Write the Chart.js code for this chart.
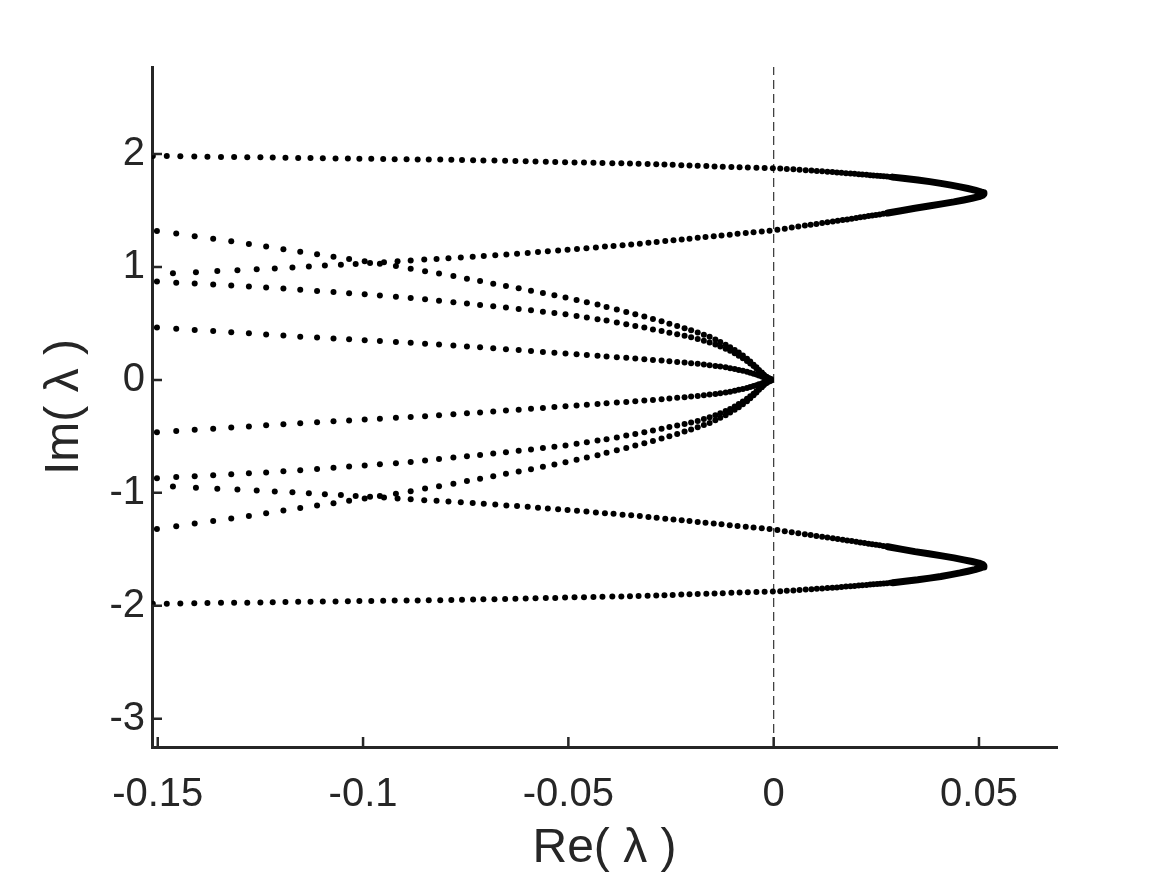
<!DOCTYPE html>
<html>
<head>
<meta charset="utf-8">
<script src="https://cdn.jsdelivr.net/npm/chart.js@4.4.1/dist/chart.umd.min.js"></script>
<style>
  html, body { margin: 0; padding: 0; background: #fff; }
  canvas { display: block; }
</style>
</head>
<body>
<canvas id="c" width="1169" height="878"></canvas>
<script>
// axis ticks
const xTicks = [-0.15, -0.1, -0.05, 0, 0.05];
const xTickLabels = ['-0.15', '-0.1', '-0.05', '0', '0.05'];
const yTicks = [-3, -2, -1, 0, 1, 2];
const yTickLabels = ['-3', '-2', '-1', '0', '1', '2'];

// outer loop, far side (upper half)
const loopOuterX = [-0.1512,-0.1478,-0.1445,-0.1411,-0.1379,-0.1346,-0.1314,-0.1282,-0.1250,-0.1220,-0.1189,-0.1158,-0.1128,-0.1098,-0.1067,-0.1037,-0.1009,-0.0980,-0.0951,-0.0923,-0.0894,-0.0867,-0.0840,-0.0812,-0.0785,
  -0.0759,-0.0732,-0.0707,-0.0680,-0.0654,-0.0629,-0.0604,-0.0580,-0.0555,-0.0532,-0.0508,-0.0485,-0.0462,-0.0439,-0.0417,-0.0393,-0.0371,-0.0350,-0.0329,
  -0.0307,-0.0286,-0.0266,-0.0246,-0.0225,-0.0205,-0.0185,-0.0164,-0.0144,-0.0124,-0.0103,-0.0083,-0.0063,-0.0042,-0.0022,-0.0002,
  0.0016,0.0032,0.0048,0.0063,0.0078,0.0092,0.0105,0.0118,0.0131,0.0143,0.0154,0.0165,0.0176,0.0187,0.0197,0.0207,0.0216,0.0226,0.0235,0.0243,0.0252,0.0260,0.0268,0.0276,0.0284,0.0291];
const loopOuterY = [1.982,1.981,1.979,1.978,1.976,1.974,1.973,1.972,1.970,1.969,1.967,1.965,1.965,1.963,1.961,1.960,1.958,1.957,1.956,1.954,1.953,1.952,1.951,1.950,1.949,
  1.947,1.945,1.943,1.942,1.939,1.937,1.935,1.934,1.932,1.930,1.927,1.925,1.924,1.922,1.920,1.918,1.917,1.916,1.914,
  1.912,1.909,1.906,1.904,1.901,1.898,1.896,1.893,1.890,1.888,1.885,1.882,1.880,1.877,1.875,1.874,
  1.871,1.867,1.864,1.860,1.856,1.853,1.850,1.846,1.842,1.840,1.837,1.834,1.830,1.827,1.824,1.820,1.818,1.815,1.812,1.810,1.807,1.804,1.802,1.800,1.797,1.795];
const loopOuterYNeg = [-1.982,-1.981,-1.979,-1.978,-1.976,-1.974,-1.973,-1.972,-1.970,-1.969,-1.967,-1.965,-1.965,-1.963,-1.961,-1.960,-1.958,-1.957,-1.956,-1.954,-1.953,-1.952,-1.951,-1.950,-1.949,
  -1.947,-1.945,-1.943,-1.942,-1.939,-1.937,-1.935,-1.934,-1.932,-1.930,-1.927,-1.925,-1.924,-1.922,-1.920,-1.918,-1.917,-1.916,-1.914,
  -1.912,-1.909,-1.906,-1.904,-1.901,-1.898,-1.896,-1.893,-1.890,-1.888,-1.885,-1.882,-1.880,-1.877,-1.875,-1.874,
  -1.871,-1.867,-1.864,-1.860,-1.856,-1.853,-1.850,-1.846,-1.842,-1.840,-1.837,-1.834,-1.830,-1.827,-1.824,-1.820,-1.818,-1.815,-1.812,-1.810,-1.807,-1.804,-1.802,-1.800,-1.797,-1.795];

// outer loop, near side
const loopInnerX = [-0.1463,-0.1407,-0.1355,-0.1306,-0.1259,-0.1215,-0.1172,-0.1132,-0.1093,-0.1054,-0.1018,-0.0983,-0.0949,-0.0916,-0.0884,-0.0851,-0.0821,-0.0792,-0.0762,-0.0733,
  -0.0706,-0.0678,-0.0651,-0.0625,-0.0599,-0.0574,-0.0550,-0.0525,-0.0502,-0.0479,-0.0456,-0.0433,-0.0411,-0.0390,-0.0368,-0.0347,-0.0326,-0.0305,-0.0285,-0.0264,
  -0.0244,-0.0224,-0.0205,-0.0185,-0.0166,-0.0146,-0.0127,-0.0107,-0.0088,-0.0068,-0.0049,-0.0029,-0.0010,0.0009,0.0027,0.0044,0.0060,0.0076,0.0090,0.0104,
  0.0118,0.0131,0.0144,0.0156,0.0168,0.0179,0.0190,0.0201,0.0211,0.0221,0.0231,0.0240,0.0249,0.0258,0.0267,0.0275];
const loopInnerY = [0.944,0.954,0.963,0.971,0.979,0.987,0.994,1.003,1.012,1.019,1.027,1.035,1.042,1.050,1.057,1.065,1.071,1.077,1.084,1.090,
  1.096,1.104,1.111,1.117,1.124,1.132,1.138,1.145,1.152,1.159,1.165,1.173,1.180,1.186,1.193,1.199,1.206,1.214,1.221,1.229,
  1.236,1.243,1.250,1.258,1.265,1.272,1.279,1.286,1.293,1.300,1.307,1.314,1.321,1.330,1.339,1.348,1.357,1.366,1.373,1.381,
  1.388,1.396,1.402,1.409,1.415,1.421,1.427,1.433,1.439,1.444,1.450,1.455,1.460,1.465,1.470,1.475];
const loopInnerYNeg = [-0.944,-0.954,-0.963,-0.971,-0.979,-0.987,-0.994,-1.003,-1.012,-1.019,-1.027,-1.035,-1.042,-1.050,-1.057,-1.065,-1.071,-1.077,-1.084,-1.090,
  -1.096,-1.104,-1.111,-1.117,-1.124,-1.132,-1.138,-1.145,-1.152,-1.159,-1.165,-1.173,-1.180,-1.186,-1.193,-1.199,-1.206,-1.214,-1.221,-1.229,
  -1.236,-1.243,-1.250,-1.258,-1.265,-1.272,-1.279,-1.286,-1.293,-1.300,-1.307,-1.314,-1.321,-1.330,-1.339,-1.348,-1.357,-1.366,-1.373,-1.381,
  -1.388,-1.396,-1.402,-1.409,-1.415,-1.421,-1.427,-1.433,-1.439,-1.444,-1.450,-1.455,-1.460,-1.465,-1.470,-1.475];

// dense tip of the loop (points too close to separate)
const tipX = [0.0290,0.0320,0.0351,0.0380,0.0407,0.0432,0.0454,0.0473,0.0490,0.0502,0.0510,0.0512,0.0509,0.0500,0.0483,0.0463,0.0439,0.0410,0.0378,0.0344,0.0310,0.0278];
const tipY = [1.795,1.783,1.770,1.755,1.740,1.724,1.709,1.694,1.680,1.667,1.657,1.646,1.635,1.622,1.608,1.593,1.576,1.558,1.539,1.520,1.498,1.477];
const tipYNeg = [-1.795,-1.783,-1.770,-1.755,-1.740,-1.724,-1.709,-1.694,-1.680,-1.667,-1.657,-1.646,-1.635,-1.622,-1.608,-1.593,-1.576,-1.558,-1.539,-1.520,-1.498,-1.477];

// three branches running into the origin, same Re values
const branchX = [-0.1502,-0.1455,-0.1410,-0.1365,-0.1321,-0.1278,-0.1236,-0.1194,-0.1153,-0.1112,-0.1072,-0.1034,-0.0996,-0.0959,-0.0920,-0.0884,-0.0849,-0.0815,-0.0780,-0.0747,
  -0.0715,-0.0683,-0.0652,-0.0621,-0.0591,-0.0562,-0.0534,-0.0507,-0.0480,-0.0455,-0.0429,-0.0407,-0.0382,-0.0359,-0.0337,-0.0315,-0.0294,-0.0273,-0.0254,-0.0235,
  -0.0217,-0.0201,-0.0185,-0.0170,-0.0156,-0.0142,-0.0130,-0.0117,-0.0106,-0.0095,-0.0085,-0.0075,-0.0065,-0.0057,-0.0049,-0.0042,-0.0036,-0.0029,-0.0024,-0.0018,-0.0012,-0.0007];
const branchB = [1.319,1.295,1.272,1.250,1.227,1.204,1.180,1.157,1.135,1.112,1.091,1.071,1.050,1.029,1.009,0.985,0.962,0.941,0.920,0.896,
  0.876,0.852,0.832,0.812,0.790,0.770,0.750,0.729,0.708,0.688,0.667,0.646,0.623,0.602,0.581,0.561,0.540,0.519,0.498,0.478,
  0.458,0.439,0.419,0.400,0.381,0.358,0.336,0.312,0.289,0.265,0.242,0.215,0.188,0.162,0.135,0.112,0.088,0.066,0.046,0.028,0.015,0.006];
const branchC = [0.870,0.860,0.853,0.845,0.836,0.827,0.819,0.808,0.799,0.788,0.777,0.767,0.758,0.747,0.737,0.726,0.714,0.701,0.688,0.676,
  0.664,0.652,0.640,0.628,0.617,0.604,0.593,0.581,0.566,0.552,0.537,0.526,0.509,0.493,0.478,0.463,0.447,0.432,0.418,0.404,
  0.391,0.377,0.363,0.347,0.331,0.313,0.296,0.276,0.257,0.236,0.214,0.191,0.168,0.145,0.122,0.101,0.080,0.060,0.042,0.027,0.014,0.005];
const branchD = [0.463,0.452,0.442,0.432,0.421,0.412,0.402,0.393,0.383,0.375,0.367,0.359,0.351,0.344,0.336,0.329,0.321,0.314,0.305,0.296,
  0.288,0.280,0.272,0.264,0.256,0.248,0.241,0.233,0.227,0.220,0.213,0.207,0.201,0.195,0.189,0.183,0.177,0.171,0.165,0.159,
  0.153,0.148,0.142,0.136,0.130,0.124,0.118,0.111,0.104,0.096,0.088,0.081,0.072,0.064,0.055,0.047,0.039,0.031,0.024,0.017,0.011,0.006];
const branchBNeg = [-1.319,-1.295,-1.272,-1.250,-1.227,-1.204,-1.180,-1.157,-1.135,-1.112,-1.091,-1.071,-1.050,-1.029,-1.009,-0.985,-0.962,-0.941,-0.920,-0.896,
  -0.876,-0.852,-0.832,-0.812,-0.790,-0.770,-0.750,-0.729,-0.708,-0.688,-0.667,-0.646,-0.623,-0.602,-0.581,-0.561,-0.540,-0.519,-0.498,-0.478,
  -0.458,-0.439,-0.419,-0.400,-0.381,-0.358,-0.336,-0.312,-0.289,-0.265,-0.242,-0.215,-0.188,-0.162,-0.135,-0.112,-0.088,-0.066,-0.046,-0.028,-0.015,-0.006];
const branchCNeg = [-0.870,-0.860,-0.853,-0.845,-0.836,-0.827,-0.819,-0.808,-0.799,-0.788,-0.777,-0.767,-0.758,-0.747,-0.737,-0.726,-0.714,-0.701,-0.688,-0.676,
  -0.664,-0.652,-0.640,-0.628,-0.617,-0.604,-0.593,-0.581,-0.566,-0.552,-0.537,-0.526,-0.509,-0.493,-0.478,-0.463,-0.447,-0.432,-0.418,-0.404,
  -0.391,-0.377,-0.363,-0.347,-0.331,-0.313,-0.296,-0.276,-0.257,-0.236,-0.214,-0.191,-0.168,-0.145,-0.122,-0.101,-0.080,-0.060,-0.042,-0.027,-0.014,-0.005];
const branchDNeg = [-0.463,-0.452,-0.442,-0.432,-0.421,-0.412,-0.402,-0.393,-0.383,-0.375,-0.367,-0.359,-0.351,-0.344,-0.336,-0.329,-0.321,-0.314,-0.305,-0.296,
  -0.288,-0.280,-0.272,-0.264,-0.256,-0.248,-0.241,-0.233,-0.227,-0.220,-0.213,-0.207,-0.201,-0.195,-0.189,-0.183,-0.177,-0.171,-0.165,-0.159,
  -0.153,-0.148,-0.142,-0.136,-0.130,-0.124,-0.118,-0.111,-0.104,-0.096,-0.088,-0.081,-0.072,-0.064,-0.055,-0.047,-0.039,-0.031,-0.024,-0.017,-0.011,-0.006];

const X_MIN = -0.1514, X_MAX = 0.069;
const Y_MIN = -3.25, Y_MAX = 2.77;
const INK = '#262626';
const FONT = "'Liberation Sans', Arial, Helvetica, sans-serif";

const pts = (xs, ys) => xs.map((x, i) => ({ x: x, y: ys[i] }));

const dots = (xs, ys) => ({
  data: pts(xs, ys),
  showLine: false,
  pointRadius: 3,
  pointBorderWidth: 0,
  pointBackgroundColor: '#000',
  order: 1
});

const band = (xs, ys) => ({
  data: pts(xs, ys),
  showLine: true,
  borderColor: '#000',
  borderWidth: 7,
  borderCapStyle: 'round',
  borderJoinStyle: 'round',
  pointRadius: 0,
  tension: 0,
  order: 1
});

// MATLAB style: ticks point into the plot
const inwardTicks = {
  id: 'inwardTicks',
  afterDraw(chart) {
    const { ctx, chartArea, scales } = chart;
    ctx.save();
    ctx.strokeStyle = INK;
    ctx.lineWidth = 2.5;
    ctx.beginPath();
    xTicks.forEach(v => {
      const px = scales.x.getPixelForValue(v);
      ctx.moveTo(px, chartArea.bottom);
      ctx.lineTo(px, chartArea.bottom - 10);
    });
    yTicks.forEach(v => {
      const py = scales.y.getPixelForValue(v);
      ctx.moveTo(chartArea.left, py);
      ctx.lineTo(chartArea.left + 10, py);
    });
    ctx.stroke();
    ctx.restore();
  }
};

new Chart(document.getElementById('c'), {
  type: 'scatter',
  data: {
    datasets: [
      dots(loopOuterX, loopOuterY),
      dots(loopInnerX, loopInnerY),
      band(tipX, tipY),
      dots(branchX, branchB),
      dots(branchX, branchC),
      dots(branchX, branchD),
      dots(loopOuterX, loopOuterYNeg),
      dots(loopInnerX, loopInnerYNeg),
      band(tipX, tipYNeg),
      dots(branchX, branchBNeg),
      dots(branchX, branchCNeg),
      dots(branchX, branchDNeg),
      {
        // Re = 0 reference line
        data: [{ x: 0, y: Y_MIN }, { x: 0, y: Y_MAX }],
        showLine: true,
        borderColor: '#333',
        borderWidth: 1.2,
        borderDash: [9, 5],
        pointRadius: 0,
        order: 2
      }
    ]
  },
  options: {
    responsive: false,
    animation: false,
    devicePixelRatio: 1,
    layout: { padding: { left: 0, top: 67, right: 112, bottom: 0 } },
    plugins: { legend: { display: false }, tooltip: { enabled: false } },
    scales: {
      x: {
        type: 'linear',
        min: X_MIN,
        max: X_MAX,
        afterBuildTicks: s => { s.ticks = xTicks.map(v => ({ value: v })); },
        afterFit: s => { s.height = 131; },
        grid: { display: false, drawTicks: false },
        border: { display: true, color: INK, width: 3 },
        ticks: {
          autoSkip: false,
          maxRotation: 0,
          padding: 24,
          color: INK,
          font: { family: FONT, size: 40 },
          callback: (v, i) => xTickLabels[i]
        },
        title: {
          display: true,
          text: 'Re( λ )',
          color: INK,
          font: { family: FONT, size: 48 },
          padding: { top: 0, bottom: 0 }
        }
      },
      y: {
        type: 'linear',
        min: Y_MIN,
        max: Y_MAX,
        afterBuildTicks: s => { s.ticks = yTicks.map(v => ({ value: v })); },
        afterFit: s => { s.width = 152; },
        grid: { display: false, drawTicks: false },
        border: { display: true, color: INK, width: 3 },
        ticks: {
          autoSkip: false,
          padding: 7,
          color: INK,
          font: { family: FONT, size: 40 },
          callback: (v, i) => yTickLabels[i]
        },
        title: {
          display: true,
          text: 'Im( λ )',
          color: INK,
          font: { family: FONT, size: 48 },
          padding: { top: 36, bottom: 0 }
        }
      }
    }
  },
  plugins: [inwardTicks]
});
</script>
</body>
</html>
